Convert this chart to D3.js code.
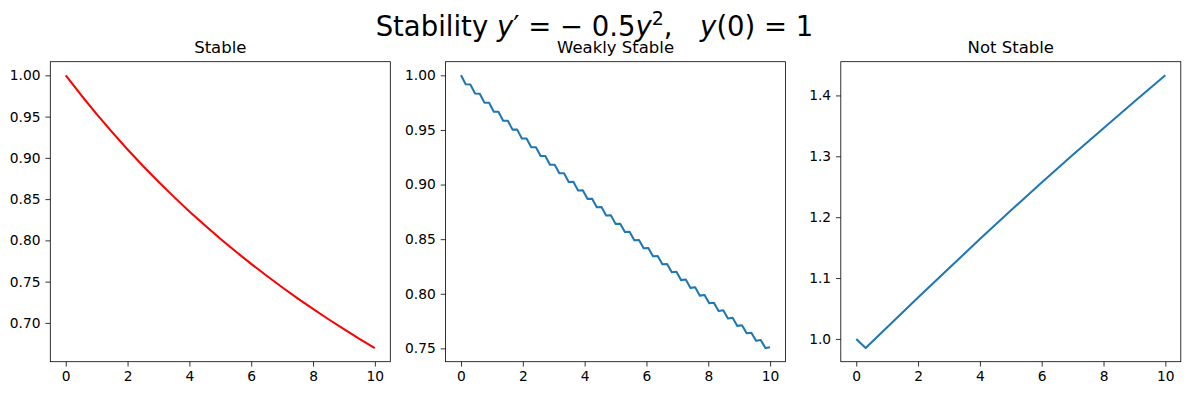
<!DOCTYPE html>
<html>
<head>
<meta charset="utf-8">
<script src="https://cdn.jsdelivr.net/npm/d3@7"></script>
<style>
  body { margin: 0; background: #fff; }
  svg { font-family: "DejaVu Sans", sans-serif; }
</style>
</head>
<body>
<div id="chart-area"></div>
<script>
// Stable panel (red)
var stableT = [0, 0.5, 1, 1.5, 2, 2.5, 3, 3.5, 4, 4.5, 5, 5.5, 6, 6.5, 7, 7.5, 8, 8.5, 9, 9.5, 10];
var stableY = [1.0, 0.9759, 0.9530, 0.9311, 0.9101, 0.8901, 0.8710, 0.8527, 0.8351, 0.8182, 0.8020,
    0.7865, 0.7715, 0.7571, 0.7432, 0.7298, 0.7169, 0.7044, 0.6924, 0.6807, 0.6695];

// Weakly stable panel (zig-zag)
var weakT = [0, 0.1515, 0.3030, 0.4545, 0.6061, 0.7576, 0.9091, 1.0606, 1.2121, 1.3636, 1.5152, 1.6667,
    1.8182, 1.9697, 2.1212, 2.2727, 2.4242, 2.5758, 2.7273, 2.8788, 3.0303, 3.1818, 3.3333, 3.4848,
    3.6364, 3.7879, 3.9394, 4.0909, 4.2424, 4.3939, 4.5455, 4.6970, 4.8485, 5.0, 5.1515, 5.3030,
    5.4545, 5.6061, 5.7576, 5.9091, 6.0606, 6.2121, 6.3636, 6.5152, 6.6667, 6.8182, 6.9697, 7.1212,
    7.2727, 7.4242, 7.5758, 7.7273, 7.8788, 8.0303, 8.1818, 8.3333, 8.4848, 8.6364, 8.7879, 8.9394,
    9.0909, 9.2424, 9.3939, 9.5455, 9.6970, 9.8485, 10];
var weakY = [1.0000, 0.9918, 0.9916, 0.9834, 0.9832, 0.9750, 0.9749, 0.9667, 0.9666, 0.9585, 0.9584,
    0.9503, 0.9503, 0.9422, 0.9422, 0.9341, 0.9341, 0.9261, 0.9261, 0.9182, 0.9182, 0.9103, 0.9103,
    0.9024, 0.9025, 0.8946, 0.8947, 0.8869, 0.8870, 0.8792, 0.8794, 0.8716, 0.8718, 0.8640, 0.8642,
    0.8565, 0.8567, 0.8490, 0.8493, 0.8416, 0.8419, 0.8343, 0.8346, 0.8270, 0.8273, 0.8197, 0.8201,
    0.8125, 0.8130, 0.8054, 0.8059, 0.7983, 0.7988, 0.7913, 0.7918, 0.7843, 0.7849, 0.7774, 0.7780,
    0.7706, 0.7712, 0.7638, 0.7644, 0.7570, 0.7577, 0.7503, 0.7510];

// Not stable panel
var unstT = [0, 0.303, 1, 2, 3, 4, 5, 6, 7, 8, 9, 10];
var unstY = [1.0, 0.985, 1.019, 1.068, 1.116, 1.164, 1.211, 1.257, 1.302, 1.346, 1.390, 1.433];

// ticks
var xTicks = [0, 2, 4, 6, 8, 10];
var stableTicks = [0.70, 0.75, 0.80, 0.85, 0.90, 0.95, 1.00];
var weakTicks = [0.75, 0.80, 0.85, 0.90, 0.95, 1.00];
var unstTicks = [1.0, 1.1, 1.2, 1.3, 1.4];

var W = 1189, H = 396;
var axW = 340, axTop = 61.7, axBottom = 361.7;
var tickLen = 4.86, tickPad = 4.86;

var svg = d3.select("#chart-area")
    .append("svg")
        .attr("width", W)
        .attr("height", H);

function panel(left, title, xs, ys, color, yTicks, fmt) {
    var g = svg.append("g");

    var x = d3.scaleLinear().domain([-0.5, 10.5]).range([left, left + axW]);
    var ext = d3.extent(ys);
    var pad = (ext[1] - ext[0]) * 0.05;
    var y = d3.scaleLinear().domain([ext[0] - pad, ext[1] + pad]).range([axBottom, axTop]);

    var line = d3.line()
        .x(function(d){ return x(d[0]); })
        .y(function(d){ return y(d[1]); });

    g.append("path")
        .datum(xs.map(function(t, i){ return [t, ys[i]]; }))
        .attr("d", line)
        .attr("fill", "none")
        .attr("stroke", color)
        .attr("stroke-width", 2.06)
        .attr("stroke-linejoin", "round")
        .attr("stroke-linecap", "butt");

    var xAxis = d3.axisBottom(x).tickValues(xTicks).tickSize(tickLen).tickPadding(tickPad)
        .tickFormat(d3.format("d"));
    var yAxis = d3.axisLeft(y).tickValues(yTicks).tickSize(tickLen).tickPadding(tickPad)
        .tickFormat(d3.format(fmt));

    var xg = g.append("g")
        .attr("transform", "translate(0," + axBottom + ")")
        .call(xAxis);
    var yg = g.append("g")
        .attr("transform", "translate(" + left + ",0)")
        .call(yAxis);

    [xg, yg].forEach(function(a){
        a.select(".domain").remove();
        a.selectAll("line").attr("stroke", "#000").attr("stroke-width", 0.8);
        a.selectAll("text").attr("fill", "#000").attr("font-size", "13.8px")
            .attr("font-family", "DejaVu Sans, sans-serif");
    });

    // frame
    g.append("rect")
        .attr("x", left)
        .attr("y", axTop)
        .attr("width", axW)
        .attr("height", axBottom - axTop)
        .attr("fill", "none")
        .attr("stroke", "#000")
        .attr("stroke-width", 0.8);

    g.append("text")
        .attr("x", left + axW / 2)
        .attr("y", axTop - 8.3)
        .attr("text-anchor", "middle")
        .attr("font-size", "16.5px")
        .text(title);
}

panel(50.3, "Stable", stableT, stableY, "red", stableTicks, ".2f");
panel(445.55, "Weakly Stable", weakT, weakY, "#1f77b4", weakTicks, ".2f");
panel(840.8, "Not Stable", unstT, unstY, "#1f77b4", unstTicks, ".1f");

// suptitle with mathtext-like pieces
var sup = svg.append("text")
    .attr("x", W / 2)
    .attr("y", 36)
    .attr("text-anchor", "middle")
    .attr("font-size", "27.5px");
sup.append("tspan").text("Stability ");
sup.append("tspan").attr("font-style", "italic").text("y");
sup.append("tspan").text("\u2032");
sup.append("tspan").text(" = \u2212 0.5");
sup.append("tspan").attr("font-style", "italic").text("y");
sup.append("tspan").attr("font-size", "19px").attr("dy", -11).text("2");
sup.append("tspan").attr("dy", 11).text(",\u2002\u2002");
sup.append("tspan").attr("font-style", "italic").text("y");
sup.append("tspan").text("(0) = 1");
</script>
</body>
</html>
